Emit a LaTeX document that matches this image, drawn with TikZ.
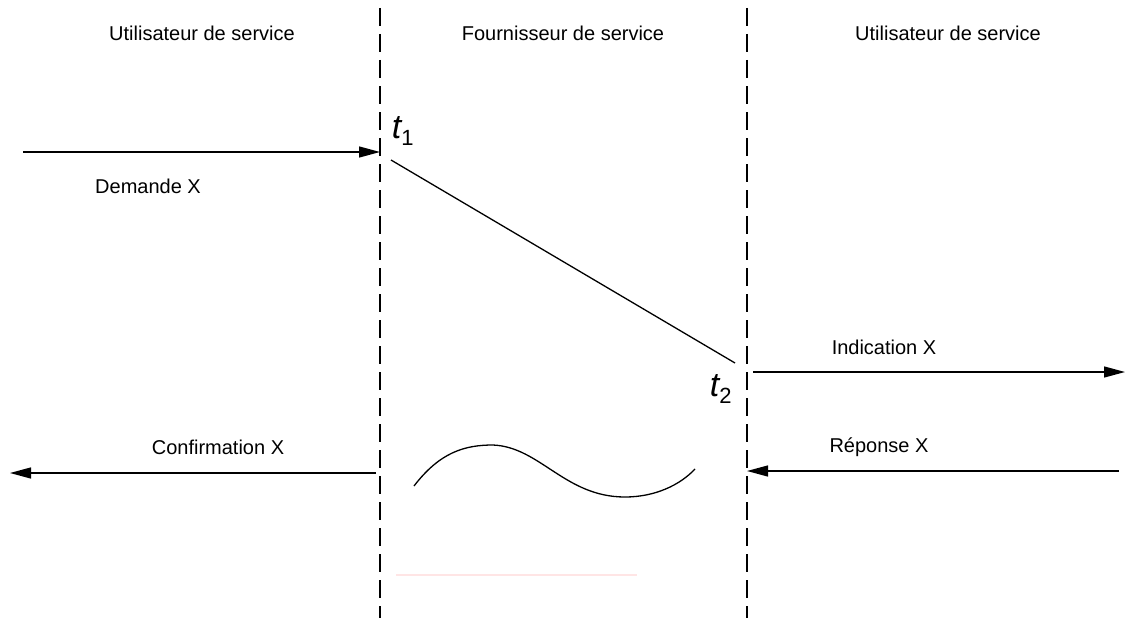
\documentclass[tikz,border=0pt]{standalone}
\usepackage{fontspec}
\setmainfont{Liberation Sans}
\usetikzlibrary{arrows.meta}
\begin{document}
\begin{tikzpicture}[x=1pt,y=-1pt,
  lbl/.style={font=\fontsize{20}{24}\selectfont, inner sep=0pt},
  tlbl/.style={font=\fontsize{34}{40}\selectfont\itshape, inner sep=0pt},
  boundary/.style={line width=1.8pt, dash pattern=on 18pt off 8pt},
  msg/.style={line width=1.3pt, -{Triangle[length=21pt,width=11pt]}},
  trace/.style={line width=1.3pt}]
\useasboundingbox (0,0) rectangle (1126,618);

% service boundaries
\coordinate (L1) at (380,8);
\coordinate (L2) at (380,618);
\coordinate (R1) at (747,8);
\coordinate (R2) at (747,618);
\draw[boundary] (L1) -- (L2);
\draw[boundary] (R1) -- (R2);

% column titles
\node[lbl] (uleft) at (202,33) {Utilisateur de service};
\node[lbl] (prov) at (563,33) {Fournisseur de service};
\node[lbl] (uright) at (948,33) {Utilisateur de service};

% request
\coordinate (dA) at (23,152);
\coordinate (dB) at (380,152);
\draw[msg] (dA) -- (dB);
\node[lbl] (dem) at (148,186) {Demande X};

% transit through the provider
\node[tlbl] (t1) at (403,131) {t\textsubscript{\fontsize{22}{26}\selectfont\upshape 1}};
\node[tlbl] (t2) at (721,389) {t\textsubscript{\fontsize{22}{26}\selectfont\upshape 2}};
\coordinate (sA) at (391,160);
\coordinate (sB) at (735,363);
\draw[trace] (sA) -- (sB);

% indication
\coordinate (iA) at (753,372);
\coordinate (iB) at (1125,372);
\draw[msg] (iA) -- (iB);
\node[lbl] (ind) at (884,347) {Indication X};

% response
\coordinate (rA) at (1119,471);
\coordinate (rB) at (747,471);
\draw[msg] (rA) -- (rB);
\node[lbl] (rep) at (879,447) {Réponse X};

% confirmation
\coordinate (cA) at (376,473);
\coordinate (cB) at (10,473);
\draw[msg] (cA) -- (cB);
\node[lbl] (conf) at (218,447) {Confirmation X};

% undetermined delay
\coordinate (w0) at (414,486);
\coordinate (w1) at (493,445);
\coordinate (w2) at (625,497);
\coordinate (w3) at (695,469);
\draw[trace] (w0) .. controls (440,452) and (465,445) .. (w1)
  .. controls (540,447) and (565,497) .. (w2)
  .. controls (655,497) and (680,485) .. (w3);

% faint mark
\coordinate (pA) at (396,575);
\coordinate (pB) at (637,575);
\draw[line width=2.5pt, pink!40] (pA) -- (pB);
\end{tikzpicture}
\end{document}
